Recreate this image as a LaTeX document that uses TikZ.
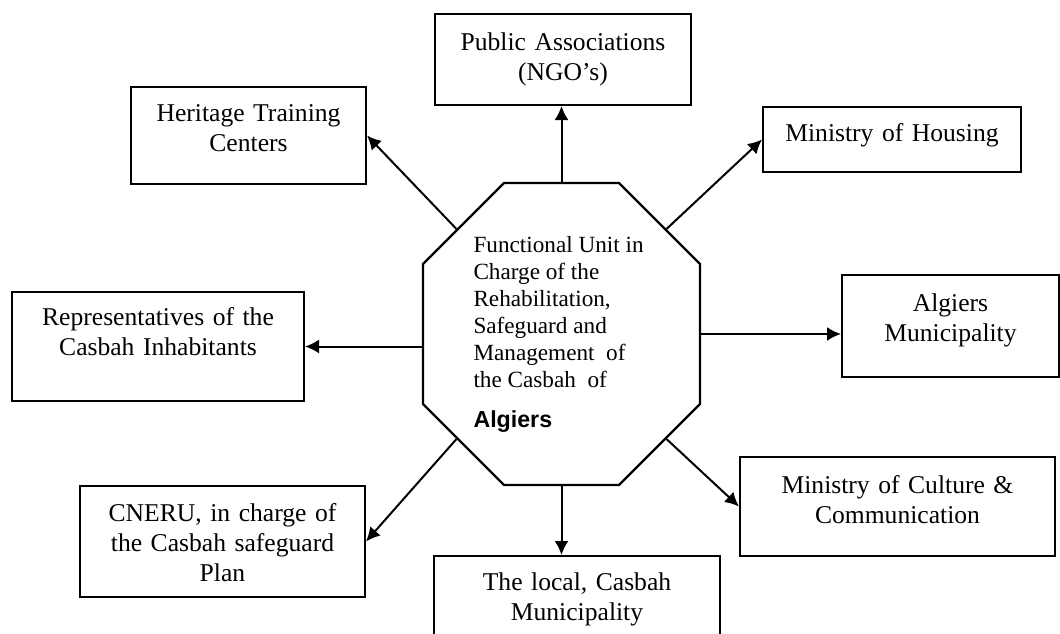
\documentclass[tikz,border=0pt]{standalone}
\usepackage{fontspec}
\setmainfont{Liberation Serif}
\setsansfont{Liberation Sans}
\usepackage{tikz}
\usetikzlibrary{shapes.misc, arrows.meta}

\begin{document}
\begin{tikzpicture}[x=0.5pt, y=-0.5pt,
    unitbox/.style={draw, line width=1pt, inner sep=0pt, align=center, anchor=north west, font=\fontsize{12.8}{15}\selectfont},
    link/.style={-{Latex[length=7pt, width=7pt]}, line width=1pt}]
    \useasboundingbox (0,0) rectangle (1060,633);
    \node[draw, line width=1.2pt, chamfered rectangle, chamfered rectangle xsep=40.5pt, minimum width=138.5pt, minimum height=151pt, inner sep=0pt, font=\fontsize{11.6}{13.5}\selectfont] (unit) at (561.5,334) {\makebox[0pt]{\parbox{88pt}{\raggedright Functional Unit in\\ Charge of the\\ Rehabilitation,\\ Safeguard and\\ Management~ of\\ the Casbah~ of\\[6.5pt] {\sffamily\bfseries Algiers}}}};
    \node[unitbox, text width=117.5pt, text height=17pt, text depth=31.5pt] (heritage) at (130,86) {Heritage Training\\ Centers};
    \node[unitbox, text width=128pt, text height=18pt, text depth=27.5pt] (public) at (434,13) {Public Associations\\ (NGO’s)};
    \node[unitbox, text width=129pt, text height=17pt, text depth=15.5pt] (housing) at (762,106) {Ministry of Housing};
    \node[unitbox, text width=108.5pt, text height=18pt, text depth=33pt] (algmun) at (841,274) {Algiers\\ Municipality};
    \node[unitbox, text width=157.5pt, text height=18pt, text depth=31.5pt] (culture) at (739,456) {Ministry of Culture \&\\ Communication};
    \node[unitbox, text width=143pt, text height=17pt, text depth=40pt] (local) at (433,555) {The local, Casbah\\ Municipality};
    \node[unitbox, text width=146pt, text height=16.5pt, text depth=38pt] (reps) at (11,291) {Representatives of the\\ Casbah Inhabitants};
    \node[unitbox, text width=142.5pt, text height=17.5pt, text depth=38pt] (cneru) at (79,485) {CNERU, in charge of\\ the Casbah safeguard\\ Plan};
    \draw[link] (unit.135) -- (heritage.east);
    \draw[link] (unit.north) -- (unit.north |- public.south);
    \draw[link] (unit.45) -- (housing.west);
    \draw[link] (unit.east) -- (unit.east -| algmun.west);
    \draw[link] (unit.-45) -- (culture.west);
    \draw[link] (unit.south) -- (unit.south |- local.north);
    \draw[link] (unit.-135) -- (cneru.east);
    \draw[link] (unit.west |- reps.east) -- (reps.east);
\end{tikzpicture}
\end{document}
